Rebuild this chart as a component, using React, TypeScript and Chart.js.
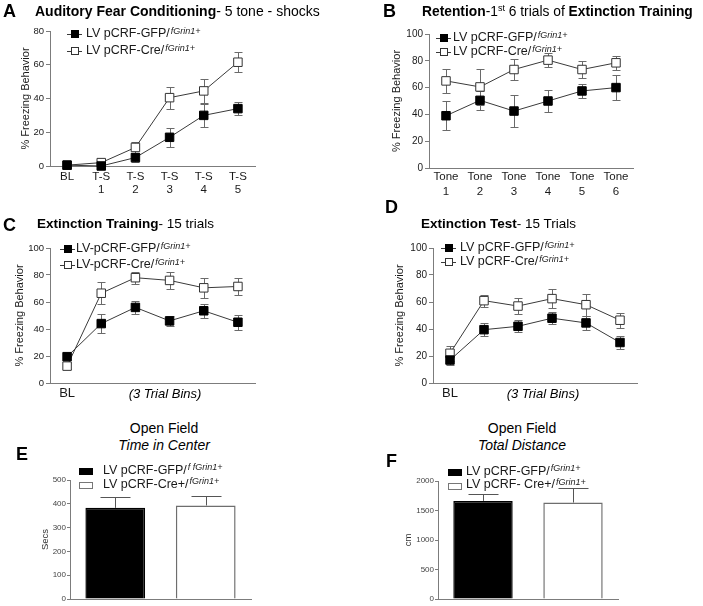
import React, { useEffect, useRef } from 'react';
import { Chart, registerables } from 'chart.js';
Chart.register(...registerables);

const FONT = "'Liberation Sans', Arial, Helvetica, sans-serif";
const AXIS = '#7c7c7c';
const ERR = '#6a6a6a';
const LINE = '#3a3a3a';
const TXT = '#1a1a1a';

// ---------- Panel A ----------
const catsA: (string | string[])[] = ['BL', ['T-S', '1'], ['T-S', '2'], ['T-S', '3'], ['T-S', '4'], ['T-S', '5']];
const namesA = ['LV pCRF-GFP/', 'LV pCRF-Cre/'];
const gfpA = [0.5, 0, 5, 17, 30, 34];
const gfpErrA = [1, 1, 2.5, 5.5, 7, 4];
const creA = [0.5, 2, 11, 40.5, 44.5, 61.5];
const creErrA = [1, 1, 3, 6.5, 7, 6];

// ---------- Panel B ----------
const catsB: (string | string[])[] = [['Tone', '1'], ['Tone', '2'], ['Tone', '3'], ['Tone', '4'], ['Tone', '5'], ['Tone', '6']];
const namesB = ['LV pCRF-GFP/', 'LV pCRF-Cre/'];
const gfpB = [39, 50.5, 42.5, 50, 57.5, 60];
const gfpErrB = [11, 7, 12, 8.5, 5, 9.5];
const creB = [65, 60.5, 73.5, 80.5, 73.5, 78.5];
const creErrB = [9, 13.5, 8, 5, 6.5, 5];

// ---------- Panel C ----------
const catsC: string[] = ['BL', '', '', '', '', ''];
const namesC = ['LV-pCRF-GFP/', 'LV-pCRF-Cre/'];
const gfpC = [19.5, 44, 56, 46, 53.5, 45];
const gfpErrC = [2, 7, 5, 3.5, 5, 5.5];
const creC = [12.5, 66.5, 78, 76, 70.5, 71.5];
const creErrC = [2, 8, 4.5, 6, 7.5, 6];

// ---------- Panel D ----------
const catsD: string[] = ['BL', '', '', '', '', ''];
const namesD = ['LV pCRF-GFP/', 'LV pCRF-Cre/'];
const gfpD = [17, 39.5, 42, 48, 44.5, 30];
const gfpErrD = [3.5, 5, 4.5, 4.5, 5.5, 4.5];
const creD = [22, 61, 57, 62.5, 58, 46.5];
const creErrD = [5.5, 4.5, 6, 7, 8, 5.5];

// ---------- Panel E ----------
const catsE = ['GFP', 'Cre'];
const namesE = ['LV pCRF-GFP/', 'LV pCRF-Cre+/'];
const supsE = ['f fGrin1+', 'fGrin1+'];
const valuesE = [383, 393];
const errE = [47, 38];

// ---------- Panel F ----------
const catsF = ['GFP', 'Cre'];
const namesF = ['LV pCRF-GFP/', 'LV pCRF- Cre+/'];
const supsF = ['fGrin1+', 'fGrin1+'];
const valuesF = [1663, 1635];
const errF = [118, 247];

type Rect = { l: number; t: number; w: number; h: number };
type Area = { l: number; t: number; r: number; b: number };

interface LineSpec {
  rect: Rect; area: Area;
  cats: (string | string[])[];
  names: string[]; sup: string;
  gfp: number[]; gfpErr: number[]; cre: number[]; creErr: number[];
  yMax: number; yStep: number; tickSize: number;
  catSize: number; catPad: number; catLH: number;
  yTitleX: number;
  legend: { mx: number; tx: number; ys: number[] };
}

function lineChart(canvas: HTMLCanvasElement, s: LineSpec) {
  const { rect, area } = s;
  const padTop = area.t - rect.t;
  const padRight = rect.l + rect.w - area.r;
  const yWidth = area.l - rect.l;
  const xHeight = rect.t + rect.h - area.b;
  const titleSize = 11;
  const titlePad = s.yTitleX - rect.l - (titleSize * 1.2) / 2;
  const errs = [s.gfpErr, s.creErr];

  const errPlugin = {
    id: 'errbars',
    beforeDatasetsDraw(chart: any) {
      const ctx = chart.ctx;
      const ys = chart.scales.y;
      ctx.save();
      ctx.strokeStyle = ERR;
      ctx.lineWidth = 1;
      errs.forEach((arr, di) => {
        const meta = chart.getDatasetMeta(di);
        const vals = chart.data.datasets[di].data as number[];
        meta.data.forEach((pt: any, j: number) => {
          const v = vals[j];
          const e = arr[j];
          const x = Math.round(pt.x) + 0.5;
          const y1 = Math.round(ys.getPixelForValue(v + e)) + 0.5;
          const y2 = Math.round(ys.getPixelForValue(v - e)) + 0.5;
          ctx.beginPath();
          ctx.moveTo(x, y1); ctx.lineTo(x, y2);
          ctx.moveTo(x - 4, y1); ctx.lineTo(x + 4, y1);
          ctx.moveTo(x - 4, y2); ctx.lineTo(x + 4, y2);
          ctx.stroke();
        });
      });
      ctx.restore();
    },
  };

  const legendPlugin = {
    id: 'customLegend',
    afterDraw(chart: any) {
      const ctx = chart.ctx;
      ctx.save();
      s.legend.ys.forEach((py, i) => {
        const y = py - rect.t;
        const mx = s.legend.mx - rect.l;
        const tx = s.legend.tx - rect.l;
        ctx.strokeStyle = LINE;
        ctx.lineWidth = 1;
        ctx.beginPath();
        ctx.moveTo(mx - 8, Math.round(y) + 0.5);
        ctx.lineTo(mx + 7, Math.round(y) + 0.5);
        ctx.stroke();
        const sz = 8;
        const rx = Math.round(mx - sz / 2);
        const ry = Math.round(y - sz / 2);
        if (i === 0) {
          ctx.fillStyle = '#000';
          ctx.fillRect(rx, ry, sz, sz);
        } else {
          ctx.fillStyle = '#fff';
          ctx.fillRect(rx, ry, sz, sz);
          ctx.strokeStyle = '#333';
          ctx.strokeRect(rx + 0.5, ry + 0.5, sz - 1, sz - 1);
        }
        ctx.fillStyle = TXT;
        ctx.textBaseline = 'middle';
        ctx.textAlign = 'left';
        ctx.font = `12.5px ${FONT}`;
        const name = chart.data.datasets[i].label as string;
        ctx.fillText(name, tx, y);
        const w = ctx.measureText(name).width;
        ctx.font = `italic 9px ${FONT}`;
        ctx.fillText(s.sup, tx + w + 1, y - 3);
      });
      ctx.restore();
    },
  };

  return new Chart(canvas, {
    type: 'line',
    data: {
      labels: s.cats as any,
      datasets: [
        {
          label: s.names[0], data: s.gfp, borderColor: LINE, borderWidth: 1,
          pointStyle: 'rect', pointRadius: 6, pointBackgroundColor: '#000',
          pointBorderColor: '#000', pointBorderWidth: 1, clip: false as any,
        },
        {
          label: s.names[1], data: s.cre, borderColor: LINE, borderWidth: 1,
          pointStyle: 'rect', pointRadius: 6, pointBackgroundColor: '#fff',
          pointBorderColor: '#333', pointBorderWidth: 1, clip: false as any,
        },
      ],
    },
    options: {
      responsive: false,
      animation: false,
      layout: { padding: { top: padTop, right: padRight, left: 0, bottom: 0 } },
      plugins: { legend: { display: false }, tooltip: { enabled: false }, title: { display: false } },
      scales: {
        x: {
          type: 'category', offset: true,
          grid: { display: false, drawTicks: false },
          border: { display: true, color: AXIS, width: 1 },
          ticks: {
            font: { family: FONT, size: s.catSize, lineHeight: s.catLH }, color: TXT,
            padding: s.catPad, maxRotation: 0, minRotation: 0, autoSkip: false,
          },
          afterFit: (sc: any) => { sc.height = xHeight; },
        },
        y: {
          min: 0, max: s.yMax,
          ticks: {
            stepSize: s.yStep, font: { family: FONT, size: s.tickSize }, color: TXT, padding: 2,
            callback: (v: any) => String(v),
          },
          grid: { drawOnChartArea: false, drawTicks: true, tickLength: 4, color: AXIS },
          border: { display: true, color: AXIS, width: 1 },
          title: {
            display: true, text: '% Freezing Behavior', color: TXT,
            font: { family: FONT, size: titleSize }, padding: { top: titlePad, bottom: 0 },
          },
          afterFit: (sc: any) => { sc.width = yWidth; },
        },
      },
    } as any,
    plugins: [errPlugin, legendPlugin],
  });
}

interface BarSpec {
  rect: Rect; area: Area;
  cats: string[]; names: string[]; sups: string[];
  values: number[]; errs: number[];
  yMax: number; yStep: number; yTitle: string; yTitleX: number;
  legend: { rx: number; tx: number; ys: number[] };
}

function barChart(canvas: HTMLCanvasElement, s: BarSpec) {
  const { rect, area } = s;
  const padTop = area.t - rect.t;
  const padRight = rect.l + rect.w - area.r;
  const yWidth = area.l - rect.l;
  const xHeight = rect.t + rect.h - area.b;
  const titleSize = 9.5;
  const titlePad = s.yTitleX - rect.l - (titleSize * 1.2) / 2;

  const errPlugin = {
    id: 'barErr',
    afterDatasetsDraw(chart: any) {
      const ctx = chart.ctx;
      const ys = chart.scales.y;
      const meta = chart.getDatasetMeta(0);
      ctx.save();
      ctx.strokeStyle = '#555';
      ctx.lineWidth = 1;
      meta.data.forEach((bar: any, j: number) => {
        const v = s.values[j];
        const x = Math.round(bar.x) + 0.5;
        const yTop = Math.round(ys.getPixelForValue(v + s.errs[j])) + 0.5;
        const yBar = ys.getPixelForValue(v);
        ctx.beginPath();
        ctx.moveTo(x, yBar); ctx.lineTo(x, yTop);
        ctx.moveTo(x - 15, yTop); ctx.lineTo(x + 15, yTop);
        ctx.stroke();
      });
      ctx.restore();
    },
  };

  const legendPlugin = {
    id: 'barLegend',
    afterDraw(chart: any) {
      const ctx = chart.ctx;
      ctx.save();
      s.legend.ys.forEach((py, i) => {
        const y = py - rect.t;
        const rx = s.legend.rx - rect.l;
        const tx = s.legend.tx - rect.l;
        if (i === 0) {
          ctx.fillStyle = '#000';
          ctx.fillRect(rx, Math.round(y - 3.5), 14, 7);
        } else {
          ctx.fillStyle = '#fff';
          ctx.fillRect(rx, Math.round(y - 3.5), 14, 7);
          ctx.strokeStyle = '#777';
          ctx.lineWidth = 1;
          ctx.strokeRect(rx + 0.5, Math.round(y - 3.5) + 0.5, 13, 6);
        }
        ctx.fillStyle = TXT;
        ctx.textBaseline = 'middle';
        ctx.textAlign = 'left';
        ctx.font = `12.5px ${FONT}`;
        const name = s.names[i];
        ctx.fillText(name, tx, y - 1);
        const w = ctx.measureText(name).width;
        ctx.font = `italic 9px ${FONT}`;
        ctx.fillText(s.sups[i], tx + w + 1, y - 4);
      });
      ctx.restore();
    },
  };

  return new Chart(canvas, {
    type: 'bar',
    data: {
      labels: s.cats,
      datasets: [
        {
          label: 'value', data: s.values,
          backgroundColor: ['#000', '#fff'], borderColor: ['#000', '#6e6e6e'],
          borderWidth: 1.5, barPercentage: 0.66, categoryPercentage: 1,
        },
      ],
    },
    options: {
      responsive: false,
      animation: false,
      layout: { padding: { top: padTop, right: padRight, left: 0, bottom: 0 } },
      plugins: { legend: { display: false }, tooltip: { enabled: false }, title: { display: false } },
      scales: {
        x: {
          type: 'category', offset: true,
          grid: { display: false, drawTicks: false },
          border: { display: true, color: AXIS, width: 1 },
          ticks: { display: false },
          afterFit: (sc: any) => { sc.height = xHeight; },
        },
        y: {
          min: 0, max: s.yMax,
          ticks: {
            stepSize: s.yStep, font: { family: FONT, size: 8 }, color: '#444', padding: 1,
            callback: (v: any) => String(v),
          },
          grid: { drawOnChartArea: false, drawTicks: true, tickLength: 3, color: AXIS },
          border: { display: true, color: AXIS, width: 1 },
          title: {
            display: true, text: s.yTitle, color: '#333',
            font: { family: FONT, size: titleSize }, padding: { top: titlePad, bottom: 0 },
          },
          afterFit: (sc: any) => { sc.width = yWidth; },
        },
      },
    } as any,
    plugins: [errPlugin, legendPlugin],
  });
}

function Panel({ rect, build }: { rect: Rect; build: (c: HTMLCanvasElement) => Chart }) {
  const ref = useRef<HTMLCanvasElement>(null);
  useEffect(() => {
    const ch = build(ref.current!);
    return () => ch.destroy();
  }, []);
  return (
    <canvas
      ref={ref}
      width={rect.w}
      height={rect.h}
      style={{ position: 'absolute', left: rect.l, top: rect.t, width: rect.w, height: rect.h }}
    />
  );
}

function Txt({ x, y, size, bold, italic, center, children }: any) {
  return (
    <div
      style={{
        position: 'absolute', left: x, top: y - size * 0.6, fontFamily: FONT, fontSize: size,
        lineHeight: `${size * 1.2}px`, fontWeight: bold ? 700 : 400,
        fontStyle: italic ? 'italic' : 'normal', whiteSpace: 'nowrap', color: '#000',
        transform: center ? 'translateX(-50%)' : undefined,
      }}
    >
      {children}
    </div>
  );
}

const specA: LineSpec = {
  rect: { l: 0, t: 20, w: 350, h: 180 }, area: { l: 50, t: 31, r: 255, b: 166 },
  cats: catsA, names: namesA, sup: 'fGrin1+', gfp: gfpA, gfpErr: gfpErrA, cre: creA, creErr: creErrA,
  yMax: 80, yStep: 20, tickSize: 9.5, catSize: 11.5, catPad: 4.5, catLH: 13 / 11.5,
  yTitleX: 26, legend: { mx: 75, tx: 86, ys: [34, 51] },
};
const specB: LineSpec = {
  rect: { l: 350, t: 20, w: 353, h: 180 }, area: { l: 429, t: 34, r: 633, b: 168 },
  cats: catsB, names: namesB, sup: 'fGrin1+', gfp: gfpB, gfpErr: gfpErrB, cre: creB, creErr: creErrB,
  yMax: 100, yStep: 20, tickSize: 10, catSize: 11.5, catPad: 1.5, catLH: 15 / 11.5,
  yTitleX: 397, legend: { mx: 444, tx: 453, ys: [38, 52] },
};
const specC: LineSpec = {
  rect: { l: 0, t: 235, w: 350, h: 165 }, area: { l: 50, t: 248, r: 255, b: 383 },
  cats: catsC, names: namesC, sup: 'fGrin1+', gfp: gfpC, gfpErr: gfpErrC, cre: creC, creErr: creErrC,
  yMax: 100, yStep: 20, tickSize: 9.5, catSize: 13, catPad: 3, catLH: 1.2,
  yTitleX: 20, legend: { mx: 68, tx: 76, ys: [249, 265] },
};
const specD: LineSpec = {
  rect: { l: 350, t: 235, w: 353, h: 165 }, area: { l: 433, t: 248, r: 637, b: 383 },
  cats: catsD, names: namesD, sup: 'fGrin1+', gfp: gfpD, gfpErr: gfpErrD, cre: creD, creErr: creErrD,
  yMax: 100, yStep: 20, tickSize: 10, catSize: 13, catPad: 3, catLH: 1.2,
  yTitleX: 400, legend: { mx: 449, tx: 460, ys: [248, 262] },
};
const specE: BarSpec = {
  rect: { l: 0, t: 455, w: 350, h: 151 }, area: { l: 70, t: 480, r: 251, b: 599 },
  cats: catsE, names: namesE, sups: supsE, values: valuesE, errs: errE,
  yMax: 500, yStep: 100, yTitle: 'Secs', yTitleX: 45,
  legend: { rx: 79, tx: 103, ys: [471.5, 485.5] },
};
const specF: BarSpec = {
  rect: { l: 350, t: 455, w: 353, h: 151 }, area: { l: 438, t: 481, r: 618, b: 599 },
  cats: catsF, names: namesF, sups: supsF, values: valuesF, errs: errF,
  yMax: 2000, yStep: 500, yTitle: 'cm', yTitleX: 408,
  legend: { rx: 448, tx: 466, ys: [472.5, 486] },
};

export default function App() {
  return (
    <div style={{ position: 'absolute', left: 0, top: 0, width: 703, height: 606, background: '#fff', overflow: 'hidden' }}>
      <Panel rect={specA.rect} build={(c) => lineChart(c, specA)} />
      <Panel rect={specB.rect} build={(c) => lineChart(c, specB)} />
      <Panel rect={specC.rect} build={(c) => lineChart(c, specC)} />
      <Panel rect={specD.rect} build={(c) => lineChart(c, specD)} />
      <Panel rect={specE.rect} build={(c) => barChart(c, specE)} />
      <Panel rect={specF.rect} build={(c) => barChart(c, specF)} />

      <Txt x={3} y={12} size={18} bold>A</Txt>
      <Txt x={35} y={11} size={14}><b>Auditory Fear Conditioning</b>- 5 tone - shocks</Txt>

      <Txt x={383} y={12} size={18} bold>B</Txt>
      <Txt x={422} y={12} size={13.8}>
        <b>Retention</b>-1<sup style={{ fontSize: 9, verticalAlign: 'baseline', position: 'relative', top: -5 }}>st</sup> 6 trials of <b>Extinction Training</b>
      </Txt>

      <Txt x={3} y={226} size={18} bold>C</Txt>
      <Txt x={37} y={224} size={13.5}><b>Extinction Training</b>- 15 trials</Txt>
      <Txt x={165} y={394} size={13} italic center>(3 Trial Bins)</Txt>

      <Txt x={385} y={208} size={18} bold>D</Txt>
      <Txt x={421} y={224} size={13.5}><b>Extinction Test</b>- 15 Trials</Txt>
      <Txt x={543} y={394} size={13} italic center>(3 Trial Bins)</Txt>

      <Txt x={164} y={428} size={14} center>Open Field</Txt>
      <Txt x={164} y={445} size={14} italic center>Time in Center</Txt>
      <Txt x={16} y={455} size={18} bold>E</Txt>

      <Txt x={522} y={428} size={14} center>Open Field</Txt>
      <Txt x={522} y={445} size={14} italic center>Total Distance</Txt>
      <Txt x={386} y={462} size={18} bold>F</Txt>
    </div>
  );
}
